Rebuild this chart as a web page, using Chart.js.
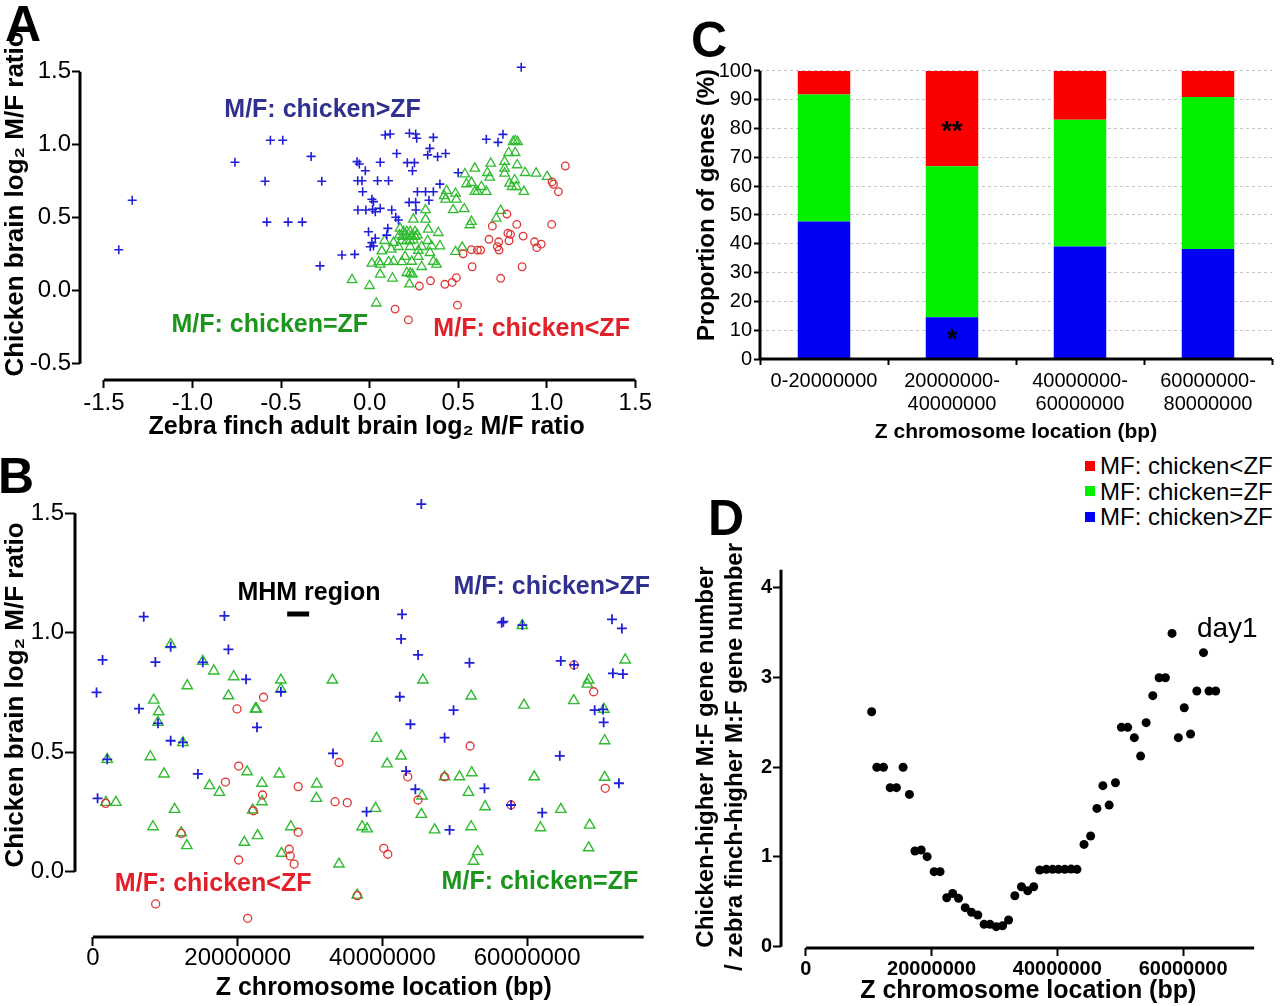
<!DOCTYPE html>
<html>
<head>
<meta charset="utf-8">
<title>Z chromosome M/F expression ratio</title>
<script src="https://cdn.jsdelivr.net/npm/chart.js@4.4.1/dist/chart.umd.min.js"></script>
<style>
  html, body { margin: 0; padding: 0; background: #fff; }
  #fig { position: relative; width: 1280px; height: 1006px; overflow: hidden; font-family: "Liberation Sans", Arial, sans-serif; }
  .pane { position: absolute; }
  .pane canvas { display: block; }
  .tag { position: absolute; font: bold 50px/50px "Liberation Sans", Arial, sans-serif; color: #000; }
  #legC { position: absolute; left: 1085px; top: 453px; font: 24px/25.5px "Liberation Sans", Arial, sans-serif; color: #000; }
  #legC .it { display: flex; align-items: center; white-space: nowrap; height: 25.5px; }
  #legC .sw { width: 10px; height: 10px; margin-right: 5px; flex: none; }
</style>
</head>
<body>
<div id="fig">
  <div class="pane" style="left:0;top:0"><canvas id="chA" width="660" height="460"></canvas></div>
  <div class="pane" style="left:0;top:440px"><canvas id="chB" width="700" height="566"></canvas></div>
  <div class="pane" style="left:690px;top:0"><canvas id="chC" width="590" height="450"></canvas></div>
  <div class="pane" style="left:690px;top:540px"><canvas id="chD" width="590" height="466"></canvas></div>
  <div class="tag" style="left:5px;top:-1px">A</div>
  <div class="tag" style="left:-2px;top:451px">B</div>
  <div class="tag" style="left:691px;top:15px">C</div>
  <div class="tag" style="left:708px;top:493px">D</div>
  <div id="legC"></div>
</div>
<script>
/* ── Dati ── */

// A: zebra finch (x) vs chicken (y), log2 M/F
const A_HIGHER_X = [-1.416, -1.34, -0.76, -0.56, -0.49, -0.33, -0.59, -0.27, -0.58, -0.46, -0.38, -0.28, 0.856,
  0.088, 0.116, 0.225, 0.26, 0.266, 0.36, 0.34, 0.328, 0.384, 0.429, 0.153, 0.06,
  -0.071, -0.058, -0.024, 0.213, 0.253, 0.242, 0.5, -0.067, -0.043, 0.045, 0.107, -0.039,
  0.27, 0.316, 0.36, 0.335, 0.013, 0.022, 0.223, 0.26, -0.066, -0.021, 0.017, 0.032, 0.06,
  0.125, 0.148, 0.163, 0.262, 0.103, 0.097, -0.006, 0.032, 0.013, 0.004, 0.022, -0.156, -0.084,
  0.659, 0.725, 0.753, 0.397];
const A_HIGHER_Y = [0.28, 0.62, 0.88, 1.03, 1.03, 0.92, 0.75, 0.75, 0.47, 0.47, 0.47, 0.17, 1.53,
  1.066, 1.073, 1.078, 1.073, 1.044, 1.05, 0.975, 0.93, 0.918, 0.94, 0.94, 0.88,
  0.884, 0.868, 0.822, 0.877, 0.877, 0.822, 0.808, 0.753, 0.753, 0.753, 0.753, 0.678,
  0.678, 0.678, 0.678, 0.62, 0.626, 0.61, 0.605, 0.605, 0.553, 0.553, 0.557, 0.541, 0.564,
  0.553, 0.503, 0.484, 0.553, 0.427, 0.381, 0.404, 0.359, 0.329, 0.301, 0.306, 0.245, 0.249,
  1.037, 1.016, 1.071, 0.73];
const A_EQUAL_X = [0.434, 0.421, 0.429, 0.485, 0.49, 0.472, 0.534, 0.538, 0.316, 0.247, 0.316, 0.331, 0.388,
  0.172, 0.191, 0.21, 0.229, 0.257, 0.169, 0.186, 0.21, 0.238, 0.257, 0.27, 0.182, 0.21, 0.229, 0.247,
  0.135, 0.084, 0.328, 0.397, 0.35, 0.294, 0.229, 0.163, 0.122, 0.069, 0.275, 0.341, 0.485, 0.523,
  0.275, 0.2, 0.107, 0.135, 0.051, 0.013, 0.06, 0.182, 0.238, 0.294, 0.36, 0.378, 0.21, 0.229, 0.242,
  0.06, 0.129, -0.099, 0, 0.225, 0.038,
  0.822, 0.81, 0.835, 0.785, 0.822, 0.684, 0.762, 0.833, 0.594, 0.665, 0.762, 0.762, 0.878, 0.94,
  1.002, 0.678, 0.547, 0.575, 0.79, 0.819, 0.804, 0.828, 0.594, 0.609, 0.631, 0.659, 0.871, 0.74,
  0.575, 0.566, 0.715];
const A_EQUAL_Y = [0.685, 0.649, 0.626, 0.666, 0.626, 0.553, 0.56, 0.799, 0.553, 0.489, 0.489, 0.42, 0.397,
  0.427, 0.404, 0.404, 0.404, 0.404, 0.381, 0.37, 0.374, 0.374, 0.37, 0.381, 0.342, 0.342, 0.342, 0.347,
  0.329, 0.342, 0.342, 0.306, 0.306, 0.301, 0.301, 0.301, 0.283, 0.271, 0.274, 0.26, 0.267, 0.297,
  0.233, 0.233, 0.197, 0.2, 0.197, 0.187, 0.18, 0.197, 0.2, 0.164, 0.2, 0.18, 0.123, 0.119, 0.112,
  0.112, 0.085, 0.074, 0.034, 0.045, -0.086,
  1.027, 1.02, 1.02, 0.945, 0.945, 0.872, 0.884, 0.861, 0.838, 0.808, 0.838, 0.804, 0.808, 0.804,
  0.781, 0.776, 0.731, 0.74, 0.735, 0.758, 0.712, 0.712, 0.679, 0.679, 0.712, 0.679, 0.679, 0.548,
  0.473, 0.45, 0.495];
const A_LOWER_X = [1.105, 1.03, 1.038, 1.066, 0.775, 0.693, 0.831, 1.028, 0.781, 0.796, 0.674, 0.729,
  0.787, 0.867, 0.931, 0.969, 0.944, 0.721, 0.731, 0.575, 0.609, 0.627, 0.528, 0.579, 0.861, 0.74,
  0.49, 0.466, 0.425, 0.344, 0.281, 0.496, 0.144, 0.219];
const A_LOWER_Y = [0.854, 0.745, 0.729, 0.678, 0.525, 0.442, 0.454, 0.454, 0.393, 0.386, 0.352, 0.335,
  0.342, 0.374, 0.335, 0.319, 0.295, 0.301, 0.278, 0.281, 0.278, 0.278, 0.253, 0.164, 0.164, 0.085,
  0.089, 0.057, 0.044, 0.068, 0.032, -0.099, -0.126, -0.2];
const A_XTICKS = [-1.5, -1.0, -0.5, 0.0, 0.5, 1.0, 1.5];
const A_YTICKS = [-0.5, 0.0, 0.5, 1.0, 1.5];

// B: posizione sul cromosoma Z (Mb) vs chicken log2 M/F
const B_HIGHER_POS = [7.02, 1.33, 0.5, 8.63, 10.74, 6.37, 8.99, 10.74, 12.43, 1.97, 0.64, 14.5, 18.17, 18.72,
  15.18, 21.16, 25.97, 22.67, 45.38, 42.71, 42.58, 44.92, 52.03, 56.48, 56.71, 59.33, 71.72, 73.09,
  64.65, 66.49, 71.85, 73.23, 42.4, 49.83, 43.87, 48.59, 69.33, 70.48, 70.57, 33.17, 43.27, 44.55,
  54.1, 64.51, 57.77, 62.08, 72.68, 37.81, 49.28];
const B_HIGHER_Y = [1.067, 0.886, 0.75, 0.877, 0.941, 0.682, 0.621, 0.548, 0.541, 0.47, 0.307, 0.409, 1.07, 0.93,
  0.876, 0.805, 0.753, 0.604, 1.538, 1.077, 0.974, 0.907, 0.874, 1.042, 1.046, 1.032, 1.056, 1.018,
  0.882, 0.865, 0.83, 0.827, 0.732, 0.676, 0.617, 0.561, 0.676, 0.679, 0.625, 0.495, 0.421, 0.345,
  0.349, 0.485, 0.279, 0.247, 0.37, 0.251, 0.175];
const B_EQUAL_POS = [10.74, 15.18, 16.7, 19.45, 13.04, 8.4, 9.09, 8.99, 18.72, 22.44, 22.6, 25.97, 25.97, 1.97,
  7.94, 9.82, 12.43, 16.1, 17.48, 21.3, 23.36, 25.74, 30.93, 30.88, 23.36, 22.07, 1.79, 3.17, 11.29,
  8.3, 12.21, 12.98, 20.92, 22.75, 27.35, 26.06,
  33.08, 45.6, 52.26, 59.33, 73.55, 68.5, 68.32, 66.44, 59.56, 70.6, 70.71, 39.19, 42.58, 40.65,
  48.59, 50.65, 52.35, 51.89, 60.98, 70.71, 45.47, 54.19, 64.65, 52.26, 61.84, 68.64, 45.38, 47.21,
  37.2, 37.89, 39.05, 53.17, 52.58, 68.5, 34, 36.52];
const B_EQUAL_Y = [0.95, 0.88, 0.84, 0.816, 0.778, 0.718, 0.669, 0.625, 0.736, 0.681, 0.681, 0.802, 0.764, 0.47,
  0.481, 0.409, 0.54, 0.36, 0.332, 0.418, 0.37, 0.409, 0.367, 0.307, 0.293, 0.258, 0.29, 0.29, 0.261,
  0.188, 0.163, 0.109, 0.123, 0.151, 0.188, 0.077,
  0.802, 0.802, 0.735, 1.03, 0.886, 0.802, 0.785, 0.716, 0.697, 0.68, 0.548, 0.558, 0.484, 0.451,
  0.397, 0.397, 0.414, 0.332, 0.397, 0.395, 0.317, 0.272, 0.261, 0.188, 0.184, 0.195, 0.24, 0.175,
  0.188, 0.179, 0.265, 0.084, 0.044, 0.1, 0.032, -0.098];
const B_LOWER_POS = [1.75, 19.91, 23.58, 20.14, 18.31, 23.44, 28.36, 22.16, 12.21, 28.36, 27.12, 27.26, 27.8,
  20.14, 8.67, 21.38, 34, 33.45, 35.14, 43.5, 44.92, 48.59, 52.12, 57.77, 66.49, 69.19, 70.79, 40.19,
  40.74, 36.52];
const B_LOWER_Y = [0.286, 0.681, 0.73, 0.442, 0.375, 0.321, 0.356, 0.255, 0.16, 0.165, 0.094, 0.066, 0.032,
  0.049, -0.135, -0.195, 0.457, 0.293, 0.289, 0.397, 0.3, 0.397, 0.526, 0.279, 0.865, 0.753, 0.349, 0.098,
  0.073, -0.1];
const MHM_SPAN = [26.84, 29.87];   // Mb
const MHM_Y = 1.078;
const B_XTICKS = [0, 20000000, 40000000, 60000000];
const B_YTICKS = [0.0, 0.5, 1.0, 1.5];

// C: proporzione di geni per finestra da 20 Mb
const C_BINS = ['0-20000000', ['20000000-', '40000000'], ['40000000-', '60000000'], ['60000000-', '80000000']];
const C_HIGHER = [47.7, 14.5, 39.1, 38.2];
const C_EQUAL = [44.1, 52.4, 44.0, 52.8];
const C_LOWER = [8.2, 33.1, 16.9, 9.0];
const C_YTICKS = [0, 10, 20, 30, 40, 50, 60, 70, 80, 90, 100];

// D: rapporto chicken-higher / zebra finch-higher (day1)
const D_POS = [10.47, 11.29, 12.35, 13.41, 14.41, 15.47, 16.47, 17.35, 18.35, 19.29, 20.41, 21.35, 22.41,
  23.35, 24.29, 25.35, 26.35, 27.35, 28.35, 29.29, 30.29, 31.29, 32.24, 33.24, 34.29, 35.29, 36.24,
  37.18, 38.24, 39.24, 40.18, 41.18, 42.18, 43.12, 44.24, 45.29, 46.29, 47.24, 48.24, 49.24, 50.18,
  51.18, 52.24, 53.24, 54.12, 55.18, 56.18, 57.18, 58.24, 59.24, 60.18, 61.18, 62.18, 63.24, 64.12, 65.18];
const D_RATIO = [2.618, 2.0, 2.0, 1.772, 1.772, 2.0, 1.697, 1.066, 1.077, 1.003, 0.836, 0.836, 0.546,
  0.594, 0.539, 0.435, 0.383, 0.353, 0.249, 0.249, 0.223, 0.234, 0.297, 0.568, 0.668, 0.624, 0.668,
  0.854, 0.862, 0.862, 0.862, 0.862, 0.865, 0.862, 1.14, 1.233, 1.541, 1.794, 1.578, 1.827, 2.444,
  2.444, 2.329, 2.124, 2.496, 2.797, 2.997, 2.997, 3.491, 2.329, 2.663, 2.37, 2.849, 3.276, 2.849, 2.849];
const D_XTICKS = [0, 20000000, 40000000, 60000000];
const D_YTICKS = [0, 1, 2, 3, 4];

/* ── Stile ── */
const MB = 1000000;
const FONT = '"Liberation Sans", Arial, sans-serif';
const NAVY = '#30308f', DKGREEN = '#1b951b', DKRED = '#e3202a';
const PLUS_BLUE = '#2020d8', TRI_GREEN = '#30bb30', RING_RED = '#e03333';

Chart.defaults.font.family = FONT;
Chart.defaults.color = '#000';
Chart.defaults.animation = false;
Chart.defaults.events = [];

/* linee d'asse stile R: solo fra i valori indicati */
const axisLines = {
  id: 'axisLines',
  afterDraw(chart, args, o) {
    const { ctx, chartArea: a, scales } = chart;
    const x0 = o.x ? scales.x.getPixelForValue(o.x[0]) : a.left;
    const x1 = o.x ? scales.x.getPixelForValue(o.x[1]) : a.right;
    const y0 = o.y ? scales.y.getPixelForValue(o.y[0]) : a.bottom;
    const y1 = o.y ? scales.y.getPixelForValue(o.y[1]) : a.top;
    ctx.save();
    ctx.strokeStyle = '#000';
    ctx.lineWidth = o.width || 3;
    ctx.beginPath();
    ctx.moveTo(x0, a.bottom); ctx.lineTo(x1, a.bottom);
    ctx.moveTo(a.left, y0); ctx.lineTo(a.left, y1);
    ctx.stroke();
    ctx.restore();
  }
};

/* testi in coordinate dati */
const notes = {
  id: 'notes',
  afterDatasetsDraw(chart, args, o) {
    const { ctx, scales } = chart;
    (o.items || []).forEach(n => {
      ctx.save();
      ctx.font = n.font;
      ctx.fillStyle = n.color || '#000';
      ctx.textAlign = n.align || 'left';
      ctx.textBaseline = 'middle';
      ctx.fillText(n.text, scales.x.getPixelForValue(n.x), scales.y.getPixelForValue(n.y));
      ctx.restore();
    });
  }
};

function pts(xs, ys, k) {
  return xs.map((v, i) => ({ x: v * (k || 1), y: ys[i] }));
}

function fixSize(size) {
  return ax => {
    if (ax.isHorizontal()) { ax.height = size; ax.paddingLeft = 0; ax.paddingRight = 0; }
    else { ax.width = size; ax.paddingTop = 0; ax.paddingBottom = 0; }
  };
}

function linAxis(o) {
  return {
    type: 'linear', min: o.min, max: o.max,
    afterBuildTicks: ax => { ax.ticks = o.ticks.map(v => ({ value: v })); },
    afterFit: fixSize(o.size),
    border: { display: false },
    grid: { drawOnChartArea: false, drawTicks: true, tickLength: o.tickLen, tickWidth: 2, tickColor: '#000' },
    ticks: { font: o.tickFont, color: '#000', padding: o.pad, maxRotation: 0, autoSkip: false, callback: o.fmt },
    title: { display: true, text: o.title, font: o.titleFont, color: '#000', padding: o.titlePad }
  };
}

const fmt1 = v => v.toFixed(1);
const fmtBp = v => String(Math.round(v));

/* ── A ── */
new Chart(document.getElementById('chA'), {
  type: 'scatter',
  data: {
    datasets: [
      { label: 'M/F: chicken>ZF', data: pts(A_HIGHER_X, A_HIGHER_Y), pointStyle: 'cross', pointRadius: 4.5, borderColor: PLUS_BLUE, borderWidth: 1.6 },
      { label: 'M/F: chicken<ZF', data: pts(A_LOWER_X, A_LOWER_Y), pointStyle: 'circle', pointRadius: 3.8, borderColor: RING_RED, backgroundColor: 'rgba(0,0,0,0)', borderWidth: 1.3 },
      { label: 'M/F: chicken=ZF', data: pts(A_EQUAL_X, A_EQUAL_Y), pointStyle: 'triangle', pointRadius: 5.5, borderColor: TRI_GREEN, backgroundColor: 'rgba(0,0,0,0)', borderWidth: 1.3 }
    ]
  },
  options: {
    responsive: false,
    layout: { padding: { left: 0, right: 4, top: 28, bottom: 0 } },
    plugins: {
      legend: { display: false }, tooltip: { enabled: false },
      axisLines: { x: [-1.5, 1.5], y: [-0.5, 1.5], width: 3 },
      notes: { items: [
        { text: 'M/F: chicken>ZF', x: -0.82, y: 1.238, color: NAVY, font: 'bold 25px ' + FONT },
        { text: 'M/F: chicken=ZF', x: -1.118, y: -0.235, color: DKGREEN, font: 'bold 25px ' + FONT },
        { text: 'M/F: chicken<ZF', x: 0.36, y: -0.262, color: DKRED, font: 'bold 25px ' + FONT }
      ] }
    },
    scales: {
      x: linAxis({ min: -1.6348, max: 1.6011, ticks: A_XTICKS, size: 80, tickLen: 8, pad: 3,
        tickFont: { size: 24, lineHeight: 1 }, fmt: fmt1,
        title: 'Zebra finch adult brain log\u2082 M/F ratio', titleFont: { size: 25, weight: 'bold', lineHeight: 1.2 },
        titlePad: { top: 0, bottom: 18 } }),
      y: linAxis({ min: -0.6116, max: 1.7993, ticks: A_YTICKS, size: 80, tickLen: 8, pad: 1,
        tickFont: { size: 24, lineHeight: 1 }, fmt: fmt1,
        title: 'Chicken brain log\u2082 M/F ratio', titleFont: { size: 26, weight: 'bold', lineHeight: 1.2 },
        titlePad: { top: 0, bottom: 0 } })
    }
  },
  plugins: [axisLines, notes]
});

/* ── B ── */
new Chart(document.getElementById('chB'), {
  type: 'scatter',
  data: {
    datasets: [
      { label: 'M/F: chicken>ZF', data: pts(B_HIGHER_POS, B_HIGHER_Y, MB), pointStyle: 'cross', pointRadius: 5, borderColor: PLUS_BLUE, borderWidth: 1.8 },
      { label: 'M/F: chicken<ZF', data: pts(B_LOWER_POS, B_LOWER_Y, MB), pointStyle: 'circle', pointRadius: 4, borderColor: RING_RED, backgroundColor: 'rgba(0,0,0,0)', borderWidth: 1.3 },
      { label: 'M/F: chicken=ZF', data: pts(B_EQUAL_POS, B_EQUAL_Y, MB), pointStyle: 'triangle', pointRadius: 6, borderColor: TRI_GREEN, backgroundColor: 'rgba(0,0,0,0)', borderWidth: 1.4 },
      { label: 'MHM region', data: MHM_SPAN.map(p => ({ x: p * MB, y: MHM_Y })), showLine: true, pointRadius: 0, borderColor: '#000', borderWidth: 5 }
    ]
  },
  options: {
    responsive: false,
    layout: { padding: { left: 0, right: 5, top: 13, bottom: 0 } },
    plugins: {
      legend: { display: false }, tooltip: { enabled: false },
      axisLines: { x: [0, 76.1 * MB], y: [0, 1.5], width: 3 },
      notes: { items: [
        { text: 'MHM region', x: 19.96 * MB, y: 1.166, color: '#000', font: 'bold 25px ' + FONT },
        { text: 'M/F: chicken>ZF', x: 49.83 * MB, y: 1.191, color: NAVY, font: 'bold 25px ' + FONT },
        { text: 'M/F: chicken<ZF', x: 3.03 * MB, y: -0.051, color: DKRED, font: 'bold 25px ' + FONT },
        { text: 'M/F: chicken=ZF', x: 48.18 * MB, y: -0.043, color: DKGREEN, font: 'bold 25px ' + FONT }
      ] }
    },
    scales: {
      x: linAxis({ min: -2.478 * MB, max: 82.86 * MB, ticks: B_XTICKS, size: 69, tickLen: 9, pad: 0,
        tickFont: { size: 24, lineHeight: 1 }, fmt: fmtBp,
        title: 'Z chromosome location (bp)', titleFont: { size: 25, weight: 'bold', lineHeight: 1.2 },
        titlePad: { top: 0, bottom: 3 } }),
      y: linAxis({ min: -0.2732, max: 1.7519, ticks: B_YTICKS, size: 75, tickLen: 10, pad: 1,
        tickFont: { size: 24, lineHeight: 1 }, fmt: fmt1,
        title: 'Chicken brain log\u2082 M/F ratio', titleFont: { size: 26, weight: 'bold', lineHeight: 1.2 },
        titlePad: { top: 0, bottom: 0 } })
    }
  },
  plugins: [axisLines, notes]
});

/* ── C ── */
const chartC = new Chart(document.getElementById('chC'), {
  type: 'bar',
  data: {
    labels: C_BINS,
    datasets: [
      { label: 'MF: chicken>ZF', data: C_HIGHER, backgroundColor: '#0000f5' },
      { label: 'MF: chicken=ZF', data: C_EQUAL, backgroundColor: '#00f000' },
      { label: 'MF: chicken<ZF', data: C_LOWER, backgroundColor: '#fa0000' }
    ]
  },
  options: {
    responsive: false,
    layout: { padding: { left: 0, right: 8, top: 51, bottom: 0 } },
    datasets: { bar: { barPercentage: 0.41, categoryPercentage: 1, borderWidth: 0 } },
    plugins: {
      legend: { display: false }, tooltip: { enabled: false },
      axisLines: { y: [0, 100], width: 3 },
      notes: { items: [
        { text: '**', x: 1, y: 78.5, align: 'center', font: 'bold 27px ' + FONT },
        { text: '*', x: 1, y: 6.5, align: 'center', font: 'bold 27px ' + FONT }
      ] }
    },
    scales: {
      x: {
        stacked: true,
        afterFit: fixSize(91),
        border: { display: false },
        grid: { drawOnChartArea: false, offset: true, tickLength: 6, tickWidth: 2, tickColor: '#000' },
        ticks: { font: { size: 20, lineHeight: 1.15 }, color: '#000', padding: 4.5, maxRotation: 0, autoSkip: false },
        title: { display: true, text: 'Z chromosome location (bp)', font: { size: 21, weight: 'bold', lineHeight: 1.2 }, color: '#000', padding: { top: 0, bottom: 5 } }
      },
      y: {
        stacked: true, min: 0, max: 106.94,
        afterBuildTicks: ax => { ax.ticks = C_YTICKS.map(v => ({ value: v })); },
        afterFit: fixSize(70),
        border: { display: false, dash: [3, 3] },
        grid: { drawOnChartArea: true, color: '#c4c4c4', lineWidth: 1, tickLength: 6, tickWidth: 2, tickColor: '#000' },
        ticks: { font: { size: 20, lineHeight: 1 }, color: '#000', padding: 2 },
        title: { display: true, text: 'Proportion of genes (%)', font: { size: 24, weight: 'bold', lineHeight: 1.2 }, color: '#000', padding: { top: 3, bottom: 0 } }
      }
    }
  },
  plugins: [axisLines, notes]
});

// legenda HTML dai dataset di C (rosso in alto)
const legC = document.getElementById('legC');
chartC.data.datasets.slice().reverse().forEach(ds => {
  const it = document.createElement('div');
  it.className = 'it';
  it.innerHTML = '<span class="sw" style="background:' + ds.backgroundColor + '"></span><span>' +
    ds.label.replace(/</g, '&lt;').replace(/>/g, '&gt;') + '</span>';
  legC.appendChild(it);
});

/* ── D ── */
new Chart(document.getElementById('chD'), {
  type: 'scatter',
  data: {
    datasets: [
      { label: 'day1', data: pts(D_POS, D_RATIO, MB), pointStyle: 'circle', pointRadius: 4.5, backgroundColor: '#000', borderColor: '#000', borderWidth: 0 }
    ]
  },
  options: {
    responsive: false,
    layout: { padding: { left: 0, right: 1, top: 26, bottom: 0 } },
    plugins: {
      legend: { display: false }, tooltip: { enabled: false },
      axisLines: { x: [0, 71.3 * MB], y: [0, 4.2], width: 3 },
      notes: { items: [
        { text: 'day1', x: 62.2 * MB, y: 3.54, font: '28px ' + FONT }
      ] }
    },
    scales: {
      x: linAxis({ min: -3.948 * MB, max: 74.69 * MB, ticks: D_XTICKS, size: 58, tickLen: 8, pad: 3,
        tickFont: { size: 20, weight: 'bold', lineHeight: 1 }, fmt: fmtBp,
        title: 'Z chromosome location (bp)', titleFont: { size: 25, weight: 'bold', lineHeight: 1.2 },
        titlePad: { top: 0, bottom: 0 } }),
      y: linAxis({ min: -0.0145, max: 4.2418, ticks: D_YTICKS, size: 91, tickLen: 8, pad: 1,
        tickFont: { size: 20, weight: 'bold', lineHeight: 1 }, fmt: v => String(v),
        title: ['Chicken-higher M:F gene number', '/ zebra finch-higher M:F gene number'],
        titleFont: { size: 24, weight: 'bold', lineHeight: 1.21 },
        titlePad: { top: 1.5, bottom: 0 } })
    }
  },
  plugins: [axisLines, notes]
});
</script>
</body>
</html>
